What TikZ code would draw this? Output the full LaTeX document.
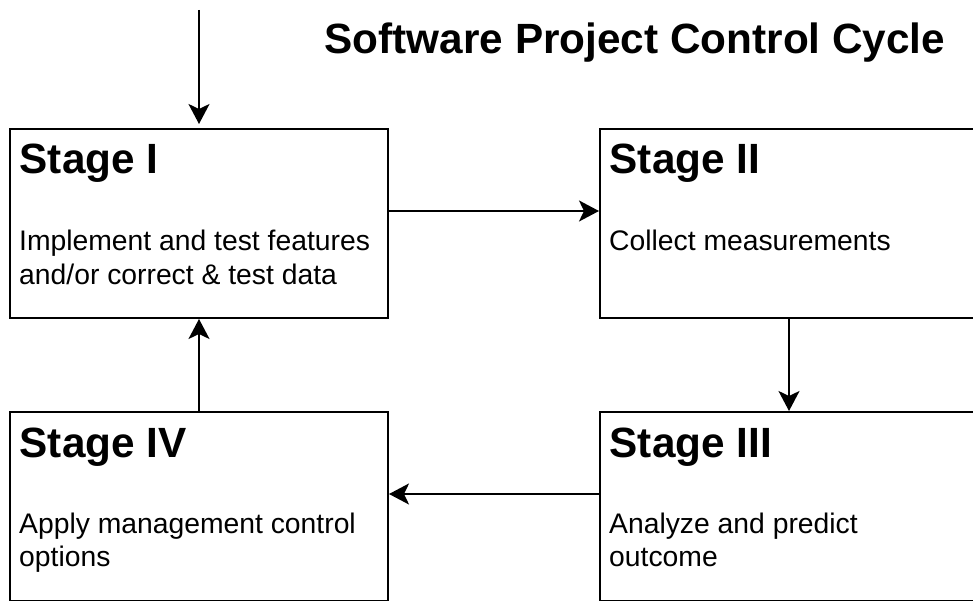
\documentclass[tikz,border=0pt]{standalone}
\usepackage{fontspec}
\setmainfont{Liberation Sans}
\usetikzlibrary{arrows.meta,calc}
\begin{document}
\begin{tikzpicture}[x=1pt,y=-1pt,
  stage/.style={draw, line width=2pt, minimum width=378pt, minimum height=189pt, inner sep=0pt},
  heading/.style={anchor=base west, inner sep=0pt, font=\fontsize{42.3}{50}\selectfont\bfseries},
  body/.style={anchor=base west, inner sep=0pt, align=left, font=\fontsize{28.3}{33}\selectfont},
  flow/.style={line width=2pt, -{Stealth[length=20pt,width=21pt,inset=5pt]}}
]
\clip (0,0) rectangle (973,601);

% the four stage boxes
\node[stage] (s1) at (199,223.5) {};
\node[stage] (s2) at (789,223.5) {};
\node[stage] (s3) at (789,506.5) {};
\node[stage] (s4) at (199,506.5) {};

% titles and descriptions (a two-line node sits on its last baseline)
\node[heading, anchor=base] (title) at (635,54) {Software Project Control Cycle};

\node[heading] (h1) at ($(s1.north west)+(10.5,46)$) {Stage I};
\node[body]    (t1) at ($(s1.north west)+(10,156)$) {Implement and test features\\and/or correct \& test data};

\node[heading] (h2) at ($(s2.north west)+(10.5,46)$) {Stage II};
\node[body]    (t2) at ($(s2.north west)+(10,123)$) {Collect measurements};

\node[heading] (h3) at ($(s3.north west)+(10.5,46)$) {Stage III};
\node[body]    (t3) at ($(s3.north west)+(10,155)$) {Analyze and predict\\outcome};

\node[heading] (h4) at ($(s4.north west)+(10.5,46)$) {Stage IV};
\node[body]    (t4) at ($(s4.north west)+(10,155)$) {Apply management control\\options};

% control loop
\coordinate (entry) at (199,10);
\draw[flow, shorten >=4pt] (entry) -- (s1.north);
\draw[flow] ([yshift=-83pt]s1.north east) -- ([yshift=-83pt]s2.north west);
\draw[flow] (s2.south) -- (s3.north);
\draw[flow] ([yshift=-83pt]s3.north west) -- ([yshift=-83pt]s4.north east);
\draw[flow] (s4.north) -- (s1.south);
\end{tikzpicture}
\end{document}
